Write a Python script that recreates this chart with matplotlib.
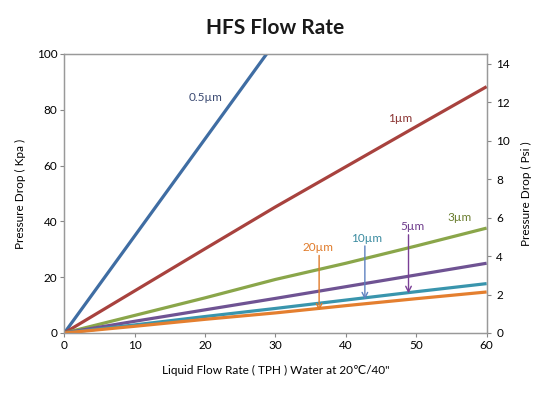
import numpy as np
import matplotlib
matplotlib.use("Agg")
import matplotlib.pyplot as plt

plt.rcParams['font.family'] = ['Lato', 'DejaVu Sans']

# flow rate (TPH) and pressure drop (kPa) per filter grade
flow = [0, 10, 20, 30, 40, 50, 60]
series = {
    "0.5µm": [0, 34.8, 69.6, 104.4, 139.2, 174.0, 208.8],
    "1µm": [0, 15.1, 30.2, 45.2, 59.6, 74.0, 88.3],
    "3µm": [0, 6.3, 12.6, 19.2, 25.0, 31.2, 37.6],
    "5µm": [0, 4.2, 8.3, 12.4, 16.6, 20.8, 25.0],
    "10µm": [0, 2.9, 5.9, 8.8, 11.8, 14.8, 17.7],
    "20µm": [0, 2.4, 4.9, 7.2, 9.8, 12.3, 14.7],
}
colors = {
    "0.5µm": "#3F6DA3",
    "1µm": "#A8423E",
    "3µm": "#8AA64A",
    "5µm": "#6F5393",
    "10µm": "#3995AD",
    "20µm": "#E47F2F",
}
label_colors = {
    "0.5µm": "#3B4A72",
    "1µm": "#8A3331",
    "3µm": "#6A7D2E",
    "5µm": "#6E3C8C",
    "10µm": "#3A8BA0",
    "20µm": "#E07B2A",
}
# label positions (x, y in kPa)
label_pos = {
    "0.5µm": (20.0, 84.5),
    "1µm": (47.7, 77.0),
    "3µm": (56.2, 41.3),
    "5µm": (49.4, 38.0),
    "10µm": (43.0, 34.0),
    "20µm": (36.1, 30.8),
}
# arrows: label -> (x, y_start, y_end, colour)
arrows = {
    "20µm": (36.2, 27.8, 8.0, "#E07B2A"),
    "10µm": (42.7, 31.2, 12.0, "#5E82C0"),
    "5µm": (48.9, 35.2, 14.2, "#7A3F96"),
}

KPA_PER_PSI = 6.895

fig = plt.figure(figsize=(5.53, 3.93), dpi=100)
ax = fig.add_axes([0.1163, 0.1527, 0.7637, 0.7099])

for name, vals in series.items():
    ax.plot(flow, vals, color=colors[name], lw=2.3, solid_capstyle='butt', zorder=3)

for name, (x, y) in label_pos.items():
    ax.text(x, y, name, color=label_colors[name], fontsize=8.5,
            ha='center', va='center', zorder=5)

for name, (x, y0, y1, c) in arrows.items():
    ax.annotate("", xy=(x, y1), xytext=(x, y0),
                arrowprops=dict(arrowstyle='->', color=c, lw=1.0,
                                mutation_scale=10, shrinkA=0, shrinkB=0),
                zorder=4)

ax.set_xlim(0, 60)
ax.set_ylim(0, 100)
ax.set_xticks(range(0, 61, 10))
ax.set_yticks(range(0, 101, 20))
ax.tick_params(labelsize=8.5, length=3, color='#888888', width=0.8, pad=2)
for sp in ax.spines.values():
    sp.set_color('#999999')
    sp.set_linewidth(0.9)

ax.set_xlabel("Liquid Flow Rate ( TPH ) Water at 20℃/40\"", fontsize=8.5, labelpad=10)
ax.set_ylabel("Pressure Drop ( Kpa )", fontsize=8.5, labelpad=8)

ax2 = ax.twinx()
ax2.set_ylim(0, 100 / KPA_PER_PSI)
ax2.set_yticks(range(0, 15, 2))
ax2.tick_params(labelsize=8.5, length=3, color='#888888', width=0.8, pad=4)
for sp in ax2.spines.values():
    sp.set_color('#999999')
    sp.set_linewidth(0.9)
ax2.set_ylabel("Pressure Drop ( Psi )", fontsize=8.5, labelpad=8)

fig.text(0.497, 0.928, "HFS Flow Rate", fontsize=15, fontweight='bold',
         ha='center', va='center', color='#1a1a1a')

fig.savefig("out.png", dpi=100)
